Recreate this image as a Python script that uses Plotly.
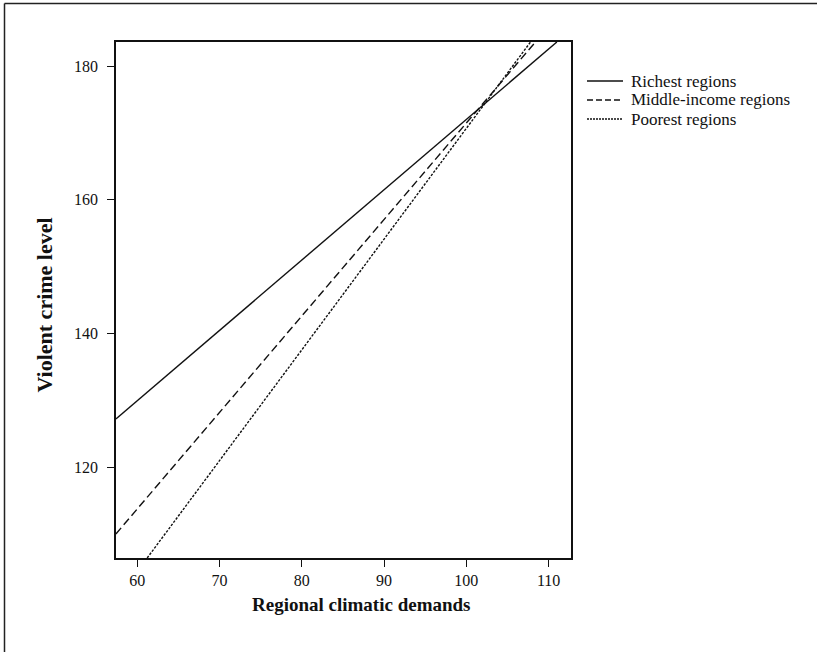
import plotly.graph_objects as go

# Data (line endpoints)
series_names = ["Richest regions", "Middle-income regions", "Poorest regions"]
rich_x = [57.4, 111.0]
rich_y = [127.2, 183.6]
mid_x = [57.4, 108.4]
mid_y = [110.0, 183.6]
poor_x = [61.2, 107.8]
poor_y = [106.4, 183.6]
x_ticks = [60, 70, 80, 90, 100, 110]
y_ticks = [120, 140, 160, 180]

W, H = 817, 652
L, R, T, B = 116, 246, 42, 94
pw, ph = W - L - R, H - T - B

def px2x(p):
    return (p - L) / pw

def py2y(p):
    return (H - B - p) / ph

serif = "Liberation Serif, Times New Roman, serif"
ink = "#111111"
fig = go.Figure()
styles = ["solid", "8px,4px", "2.5px,1.5px"]
for name, xs, ys, d in zip(series_names, [rich_x, mid_x, poor_x],
                           [rich_y, mid_y, poor_y], styles):
    fig.add_trace(go.Scatter(x=xs, y=ys, mode="lines", name=name,
                             line=dict(color=ink, width=1.4, dash=d)))

annotations = [
    dict(text="<b>Regional climatic demands</b>", xref="paper", yref="paper",
         x=px2x(361), y=py2y(604), xanchor="center", yanchor="middle",
         showarrow=False, font=dict(family=serif, size=19, color=ink)),
    dict(text="<b>Violent crime level</b>", xref="paper", yref="paper",
         x=px2x(44), y=py2y(305.5), xanchor="center", yanchor="middle",
         textangle=-90, showarrow=False,
         font=dict(family=serif, size=22, color=ink)),
]
shapes = [
    dict(type="line", xref="paper", yref="paper", x0=px2x(4.5), x1=px2x(817),
         y0=py2y(3.5), y1=py2y(3.5), line=dict(color="#222222", width=1.5)),
    dict(type="line", xref="paper", yref="paper", x0=px2x(4.5), x1=px2x(4.5),
         y0=py2y(3.5), y1=py2y(652), line=dict(color="#222222", width=1.5)),
]
# legend (drawn manually for tight row spacing)
legend_rows = [81, 100, 119]
for name, d, ry in zip(series_names, ["solid", "6px,3px", "2px,1px"], legend_rows):
    shapes.append(dict(type="line", xref="paper", yref="paper",
                       x0=px2x(587), x1=px2x(623), y0=py2y(ry), y1=py2y(ry),
                       line=dict(color=ink, width=1.3, dash=d)))
    annotations.append(dict(text=name, xref="paper", yref="paper",
                            x=px2x(629), y=py2y(ry), xanchor="left", yanchor="middle",
                            showarrow=False,
                            font=dict(family=serif, size=17, color=ink)))

fig.update_layout(
    width=W, height=H,
    margin=dict(l=L, r=R, t=T, b=B),
    paper_bgcolor="white", plot_bgcolor="white",
    font=dict(family=serif, color=ink, size=16),
    showlegend=False,
    xaxis=dict(range=[57.41, 112.72], tickvals=x_ticks, showgrid=False,
               zeroline=False, showline=True, linecolor=ink, linewidth=1.5,
               mirror=True, ticks="outside", ticklen=7, tickcolor=ink,
               tickwidth=1.3, tickfont=dict(size=16, family=serif)),
    yaxis=dict(range=[106.4, 183.6], tickvals=y_ticks, showgrid=False,
               zeroline=False, showline=True, linecolor=ink, linewidth=1.5,
               mirror=True, ticks="outside", ticklen=7, tickcolor=ink,
               tickwidth=1.3, ticklabelstandoff=6,
               tickfont=dict(size=16, family=serif)),
    annotations=annotations,
    shapes=shapes,
)

fig.write_html("out.html", config={"displayModeBar": False},
               post_script="document.body.style.margin='0';document.body.style.overflow='hidden';")
